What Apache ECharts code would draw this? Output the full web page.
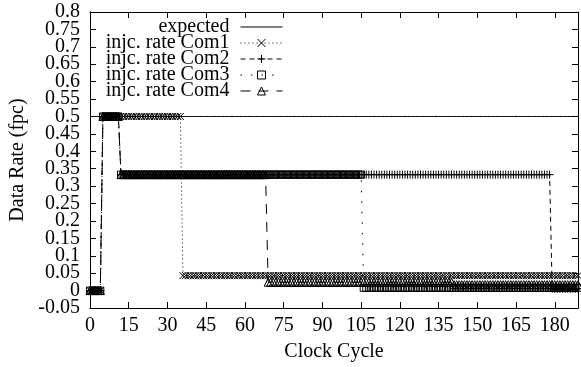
<!DOCTYPE html>
<html>
<head>
<meta charset="utf-8">
<script src="https://cdn.jsdelivr.net/npm/echarts@6/dist/echarts.min.js"></script>
<style>
html,body{margin:0;padding:0;background:#fff;}
#c{width:581px;height:367px;}
</style>
</head>
<body>
<div id="c"></div>
<script>
// Each series is a list of [firstCycle, lastCycle, rate] steps,
// one data point per clock cycle (the reference draws a marker at every cycle).
var lastCycle = 189;
var seriesNames = ['expected', 'injc. rate Com1', 'injc. rate Com2', 'injc. rate Com3', 'injc. rate Com4'];
var expectedSteps = [[0, 189, 0.5]];
var com1Steps = [[0, 4, 0], [5, 35, 0.5], [36, 189, 0.043]];
var com2Steps = [[0, 4, 0], [5, 11, 0.5], [12, 178, 0.333], [179, 189, 0.005]];
var com3Steps = [[0, 4, 0], [5, 11, 0.5], [12, 105, 0.333], [106, 189, 0.008]];
var com4Steps = [[0, 4, 0], [5, 11, 0.5], [12, 68, 0.333], [69, 140, 0.024], [141, 189, 0.017]];
var xTicks = [0, 15, 30, 45, 60, 75, 90, 105, 120, 135, 150, 165, 180];
var yTicksA = [0, 0.1, 0.2, 0.3, 0.4, 0.5, 0.6, 0.7, 0.8];
var yTicksB = [-0.05, 0.05, 0.15, 0.25, 0.35, 0.45, 0.55, 0.65, 0.75];

function expand(steps) {
  var out = [];
  steps.forEach(function (s) {
    for (var c = s[0]; c <= s[1]; c++) out.push([c, s[2]]);
  });
  return out;
}

var FONT = 'Liberation Serif';
var FS = 20;
var symX = 'path://M0,0L10,10M10,0L0,10';
var symPlus = 'path://M5,0L5,10M0,5L10,5';
var symSq = 'path://M0,0L10,0L10,10L0,10Z';
var symTri = 'path://M5,0L10,9L0,9Z';

function mk(name, data, dash, symbol, size) {
  return {
    name: name, type: 'line', data: data, xAxisIndex: 0, yAxisIndex: 0,
    symbol: symbol, symbolSize: size, showSymbol: symbol !== 'none',
    lineStyle: { color: '#000', width: 1, type: dash },
    itemStyle: { color: 'rgba(0,0,0,0)', borderColor: '#000', borderWidth: 1 },
    emphasis: { disabled: true },
    silent: true
  };
}
function yFmt(list) {
  return function (v) {
    var r = Math.round(v * 100) / 100;
    return list.indexOf(r) >= 0 ? String(r) : '';
  };
}

var chart = echarts.init(document.getElementById('c'), null, { renderer: 'canvas' });
var axisText = { fontFamily: FONT, fontSize: FS, color: '#000' };
var frameLine = { onZero: false, lineStyle: { color: '#000', width: 1 } };
var tick = { show: true, inside: true, length: 6, lineStyle: { color: '#000', width: 1 } };
function tickOnlyX(pos) {
  return {
    type: 'value', position: pos, min: 0, max: lastCycle, interval: 15,
    axisLine: frameLine, axisTick: tick,
    axisLabel: { show: false }, splitLine: { show: false }
  };
}
function tickOnlyY(pos) {
  return {
    type: 'value', position: pos, offset: 0, min: -0.05, max: 0.8, interval: 0.05,
    axisLine: frameLine, axisTick: tick,
    axisLabel: { show: false }, splitLine: { show: false }
  };
}
chart.setOption({
  animation: false,
  backgroundColor: '#fff',
  grid: { left: 86, right: 3, top: 12, bottom: 56, containLabel: false },
  legend: {
    orient: 'vertical', align: 'right', right: 298, top: 17, padding: 0,
    itemGap: -4, itemWidth: 42, itemHeight: 10,
    lineStyle: { width: 1 },
    itemStyle: { borderWidth: 1 },
    textStyle: { fontFamily: FONT, fontSize: FS, color: '#000', padding: [0, 6, 0, 0] },
    data: [
      { name: seriesNames[0], itemStyle: { opacity: 0 } },
      seriesNames[1], seriesNames[2], seriesNames[3], seriesNames[4]
    ],
    selectedMode: false
  },
  xAxis: [{
    type: 'value', min: 0, max: lastCycle, interval: 15,
    name: 'Clock Cycle', nameLocation: 'middle', nameGap: 34,
    nameTextStyle: axisText,
    axisLine: frameLine, axisTick: tick,
    axisLabel: Object.assign({ margin: 8, hideOverlap: false,
      formatter: function (v) { return xTicks.indexOf(v) >= 0 ? String(v) : ''; } }, axisText),
    splitLine: { show: false }
  }, tickOnlyX('top'), tickOnlyX('bottom')],
  yAxis: [{
    type: 'value', position: 'left', min: -0.05, max: 0.8, interval: 0.05,
    name: 'Data Rate (fpc)', nameLocation: 'middle', nameGap: 62, nameRotate: 90,
    nameTextStyle: axisText,
    axisLine: frameLine, axisTick: tick,
    axisLabel: Object.assign({ margin: 10, showMinLabel: true, showMaxLabel: true, hideOverlap: false,
      formatter: yFmt(yTicksA) }, axisText),
    splitLine: { show: false }
  }, tickOnlyY('right'), {
    type: 'value', position: 'left', offset: 0, min: -0.05, max: 0.8, interval: 0.05,
    axisLine: { show: false }, axisTick: { show: false },
    axisLabel: Object.assign({ margin: 10, showMinLabel: true, showMaxLabel: true, hideOverlap: false,
      formatter: yFmt(yTicksB) }, axisText),
    splitLine: { show: false }
  }, tickOnlyY('left')],
  series: [
    mk(seriesNames[0], expand(expectedSteps), 'solid', 'none', 0),
    mk(seriesNames[1], expand(com1Steps), [1, 3], symX, 7),
    mk(seriesNames[2], expand(com2Steps), [5, 4], symPlus, 8),
    mk(seriesNames[3], expand(com3Steps), [1.5, 9], symSq, 7),
    mk(seriesNames[4], expand(com4Steps), [10, 8], symTri, 8)
  ]
});
</script>
</body>
</html>
